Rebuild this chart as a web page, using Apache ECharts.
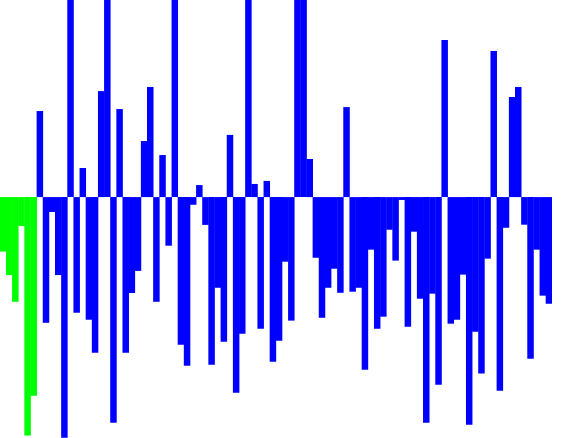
<!DOCTYPE html>
<html>
<head>
<meta charset="utf-8">
<script src="https://cdn.jsdelivr.net/npm/echarts@6/dist/echarts.min.js"></script>
<style>
html,body{margin:0;padding:0;background:#ffffff;}
#chart{width:562px;height:438px;}
</style>
</head>
<body>
<div id="chart"></div>
<script>
// Values (y axis runs from -11 to 9; bars above 9 are clipped)
const greenValues = [-2.49, -3.56, -4.78, -1.32, -10.89, -9.07];
const blueValues = [
  3.93, -5.74, -0.68, -3.56, -10.99, 10, -5.28, 1.33, -5.60, -7.11,
  4.84, 10, -10.30, 4.02, -7.11, -4.38, -3.37, 2.56, 5.03, -4.78,
  1.92, -2.22, 10, -6.74, -7.70, -0.35, 0.55, -1.27, -7.65, -4.14,
  -6.60, 2.84, -8.93, -6.24, 10, 0.60, -6.01, 0.74, -7.52, -6.56,
  -2.95, -5.64, 10, 10, 1.74, -2.77, -5.51, -4.14, -3.27, -4.37,
  4.11, -4.32, -4.14, -7.88, -2.40, -6.01, -5.46, -1.49, -2.90, -0.13,
  -5.92, -1.58, -4.64, -10.30, -4.41, -8.57, 7.17, -5.78, -5.60, -3.54,
  -10.39, -6.15, -8.06, -2.81, 6.67, -8.84, -1.40, 4.57, 5.03, -1.26,
  -7.38, -2.40, -4.50, -4.87
];
const allValues = greenValues.concat(blueValues);
const categories = allValues.map((v, i) => String(i + 1));
const greenColor = '#00ff00';
const blueColor = '#0000ff';

const chart = echarts.init(document.getElementById('chart'), null, {renderer: 'canvas'});
chart.setOption({
  animation: false,
  backgroundColor: '#ffffff',
  grid: {left: 0, right: 10, top: 0, bottom: 0, containLabel: false},
  xAxis: {
    type: 'category',
    data: categories,
    show: false,
    boundaryGap: true
  },
  yAxis: {
    type: 'value',
    min: -11,
    max: 9,
    show: false,
    splitLine: {show: false}
  },
  series: [{
    type: 'bar',
    data: allValues.map((v, i) => ({
      value: v,
      itemStyle: {
        color: i < greenValues.length ? greenColor : blueColor
      }
    })),
    clip: true,
    barWidth: 6.5
  }]
});
</script>
</body>
</html>
